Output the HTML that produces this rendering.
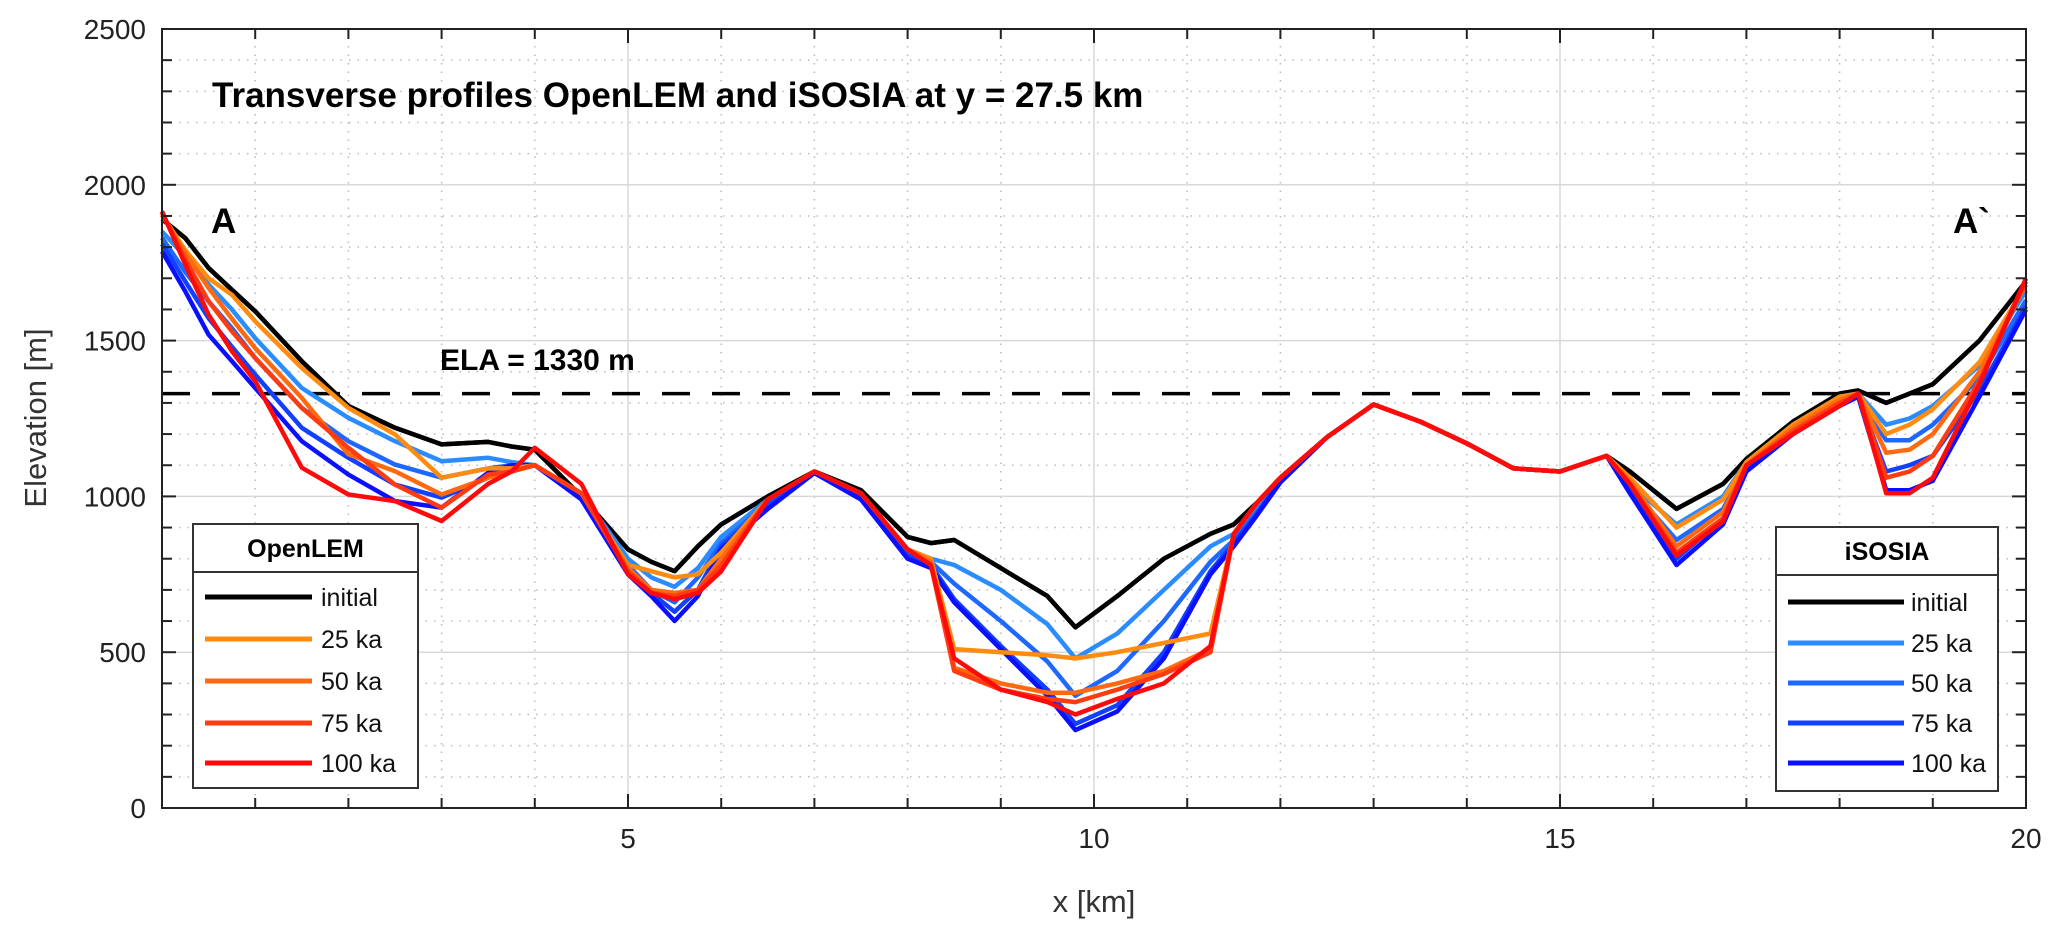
<!DOCTYPE html>
<html><head><meta charset="utf-8"><style>
body{margin:0;background:#fff}
svg{display:block;font-family:"Liberation Sans",Arial,sans-serif}
</style></head><body>
<svg id="chart" width="2067" height="938" viewBox="0 0 2067 938" xmlns="http://www.w3.org/2000/svg">
<rect x="0" y="0" width="2067" height="938" fill="#fff"/>
<g id="grid"></g>
<g id="series"></g>
<g id="axes"></g>
<text x="212" y="107" font-size="35" font-weight="bold">Transverse profiles OpenLEM and iSOSIA at y = 27.5 km</text>
<text x="211" y="233" font-size="35" font-weight="bold">A</text>
<text x="1953" y="233" font-size="35" font-weight="bold">A`</text>
<text x="440" y="370" font-size="30" font-weight="bold">ELA = 1330 m</text>
<text x="1094" y="912" font-size="31" text-anchor="middle" fill="#333">x [km]</text>
<text transform="translate(46,418) rotate(-90)" font-size="31" text-anchor="middle" fill="#333">Elevation [m]</text>
<g id="legends"></g>
</svg>
<script>
const xKm=[0,0.25,0.5,0.75,1,1.5,2,2.5,3,3.5,3.75,4,4.5,5,5.25,5.5,5.75,6,6.5,7,7.5,8,8.25,8.5,9,9.5,9.8,10.25,10.75,11.25,11.5,11.75,12,12.5,13,13.5,14,14.5,15,15.5,15.75,16.25,16.75,17,17.5,18,18.2,18.5,18.75,19,19.5,20];
const initial=[1890,1829,1733,1663,1594,1434,1290,1220,1167,1175,1160,1150,1000,830,790,760,840,910,1000,1080,1020,870,850,860,770,680,580,680,800,880,910,980,1060,1190,1295,1240,1170,1090,1080,1130,1080,960,1040,1120,1240,1330,1340,1300,1330,1360,1500,1690];
const iso25=[1850,1770,1680,1600,1508,1348,1252,1177,1113,1124,1110,1100,1010,800,740,710,770,870,990,1075,1010,830,800,780,700,590,480,560,700,840,880,960,1055,1190,1295,1240,1170,1090,1080,1130,1040,910,1000,1110,1230,1320,1330,1230,1250,1290,1420,1660];
const iso50=[1830,1720,1626,1540,1444,1284,1177,1102,1060,1090,1100,1100,1000,780,700,660,740,850,980,1075,1000,820,790,720,600,470,360,440,600,790,860,950,1050,1190,1295,1240,1170,1090,1080,1130,1030,860,960,1100,1220,1310,1320,1180,1180,1230,1380,1630];
const iso75=[1810,1690,1572,1480,1391,1220,1124,1038,996,1060,1090,1100,1000,760,690,630,700,840,970,1075,995,810,780,670,520,380,270,330,500,760,850,945,1050,1190,1295,1240,1170,1090,1080,1130,1020,800,930,1090,1210,1300,1320,1080,1100,1130,1340,1610];
const iso100=[1786,1658,1519,1434,1348,1177,1070,985,964,1076,1100,1100,990,750,680,600,680,830,960,1075,990,800,770,660,510,360,250,310,480,750,840,940,1045,1190,1295,1240,1170,1090,1080,1130,1010,780,910,1080,1200,1290,1320,1020,1020,1050,1320,1600];
const lem25=[1903,1790,1700,1647,1562,1412,1284,1199,1060,1090,1090,1100,1010,780,760,740,750,820,990,1080,1010,830,800,510,500,490,480,500,530,560,880,980,1060,1190,1295,1240,1170,1090,1080,1130,1060,900,990,1110,1230,1320,1330,1200,1230,1280,1430,1680];
const lem50=[1903,1780,1669,1570,1476,1316,1135,1081,1006,1060,1080,1100,1010,770,700,690,700,800,990,1080,1010,830,790,450,400,370,370,400,440,510,880,980,1060,1190,1295,1240,1170,1090,1080,1130,1050,840,950,1100,1220,1310,1330,1140,1150,1200,1400,1680];
const lem75=[1910,1760,1626,1530,1444,1284,1156,1038,964,1070,1080,1100,1010,760,690,680,700,780,990,1080,1010,830,780,440,380,350,340,380,430,500,880,980,1060,1190,1295,1240,1170,1090,1080,1130,1040,820,930,1100,1210,1300,1330,1060,1080,1130,1370,1690];
const lem100=[1915,1744,1583,1466,1370,1092,1006,985,921,1040,1080,1156,1040,750,690,670,690,760,990,1080,1010,830,780,480,380,340,300,350,400,520,880,980,1060,1190,1295,1240,1170,1090,1080,1130,1040,810,920,1100,1200,1290,1330,1010,1010,1060,1360,1700];
const xTicks=[5,10,15,20];
const yTicks=[0,500,1000,1500,2000,2500];
const elaValue=1330;
const isoNames=["initial","25 ka","50 ka","75 ka","100 ka"];
const lemNames=["initial","25 ka","50 ka","75 ka","100 ka"];

const L=162,R=2026,T=29,B=808;
const sx=v=>L+(v/20)*(R-L);
const sy=v=>B-(v/2500)*(B-T);
const NS="http://www.w3.org/2000/svg";
function mk(tag,parent,attrs){const e=document.createElementNS(NS,tag);for(const k in attrs)e.setAttribute(k,attrs[k]);parent.appendChild(e);return e;}
const grid=document.getElementById('grid'),axes=document.getElementById('axes'),ser=document.getElementById('series'),leg=document.getElementById('legends');
for(let k=1;k<20;k++){const major=k%5===0;const l=mk('line',grid,{x1:sx(k),x2:sx(k),y1:T,y2:B,stroke:major?'#d8d8d8':'#bbb','stroke-width':1.5,'stroke-dasharray':major?'none':'1.5 7'});

}
for(let v=100;v<2500;v+=100){const major=v%500===0;const l=mk('line',grid,{x1:L,x2:R,y1:sy(v),y2:sy(v),stroke:major?'#d8d8d8':'#bbb','stroke-width':1.5,'stroke-dasharray':major?'none':'1.5 7'});

}
const ela=mk('line',ser,{x1:L,x2:R,y1:sy(elaValue),y2:sy(elaValue),stroke:'#000','stroke-width':3.5,'stroke-dasharray':'28 22'});


const series=[
 ['iso-initial',initial,'#000'],['lem-initial',initial,'#000'],
 ['iso-25ka',iso25,'#2a8cff'],['iso-50ka',iso50,'#1f68ff'],['iso-75ka',iso75,'#1240ff'],['iso-100ka',iso100,'#0a10ff'],
 ['lem-25ka',lem25,'#ff8c10'],['lem-50ka',lem50,'#ff6a10'],['lem-75ka',lem75,'#ff3c10'],['lem-100ka',lem100,'#ff0a0a']];
series.forEach(s=>{const d=s[1].map((v,i)=>(i?'L':'M')+sx(xKm[i]).toFixed(1)+' '+sy(v).toFixed(1)).join(' ');
const p=mk('path',ser,{d:d,fill:'none',stroke:s[2],'stroke-width':4.5,'stroke-linejoin':'round'});

});
const box=mk('rect',axes,{x:L,y:T,width:R-L,height:B-T,fill:'none',stroke:'#222','stroke-width':2});


for(let k=1;k<20;k++){const len=k%5===0?14:10;mk('line',axes,{x1:sx(k),x2:sx(k),y1:B,y2:B-len,stroke:'#222','stroke-width':2});mk('line',axes,{x1:sx(k),x2:sx(k),y1:T,y2:T+len,stroke:'#222','stroke-width':2});}
for(let v=100;v<2500;v+=100){const len=v%500===0?14:10;mk('line',axes,{x1:L,x2:L+len,y1:sy(v),y2:sy(v),stroke:'#222','stroke-width':2});mk('line',axes,{x1:R,x2:R-len,y1:sy(v),y2:sy(v),stroke:'#222','stroke-width':2});}
xTicks.forEach(v=>{const t=mk('text',axes,{x:sx(v),y:B+40,'font-size':28,'text-anchor':'middle',fill:'#222'});t.textContent=v;

});
yTicks.forEach(v=>{const t=mk('text',axes,{x:L-16,y:sy(v)+10,'font-size':28,'text-anchor':'end',fill:'#222'});t.textContent=v;

});
function legend(name,title,x,y,w,h,hh,names,colors,lx1,lx2,tx,ys){
 const g=mk('g',leg,{});
 
 
 mk('rect',g,{x:x,y:y,width:w,height:h,fill:'#fff',stroke:'#333','stroke-width':2});
 mk('line',g,{x1:x,x2:x+w,y1:y+hh,y2:y+hh,stroke:'#333','stroke-width':2});
 const t=mk('text',g,{x:x+w/2,y:y+hh-15,'font-size':25,'font-weight':'bold','text-anchor':'middle'});t.textContent=title;
 names.forEach((n,i)=>{mk('line',g,{x1:lx1,x2:lx2,y1:ys[i],y2:ys[i],stroke:colors[i],'stroke-width':5});
 const tt=mk('text',g,{x:tx,y:ys[i]+9,'font-size':25,fill:'#111'});tt.textContent=n;
 
 });
}
legend('openlem-legend','OpenLEM',193,524,225,264,48,lemNames,['#000','#ff8c10','#ff6a10','#ff3c10','#ff0a0a'],205,312,321,[597,639,681,723,763]);
legend('isosia-legend','iSOSIA',1776,527,222,264,48,isoNames,['#000','#2a8cff','#1f68ff','#1240ff','#0a10ff'],1788,1904,1911,[602,643,683,723,763]);
</script>
</body></html>
